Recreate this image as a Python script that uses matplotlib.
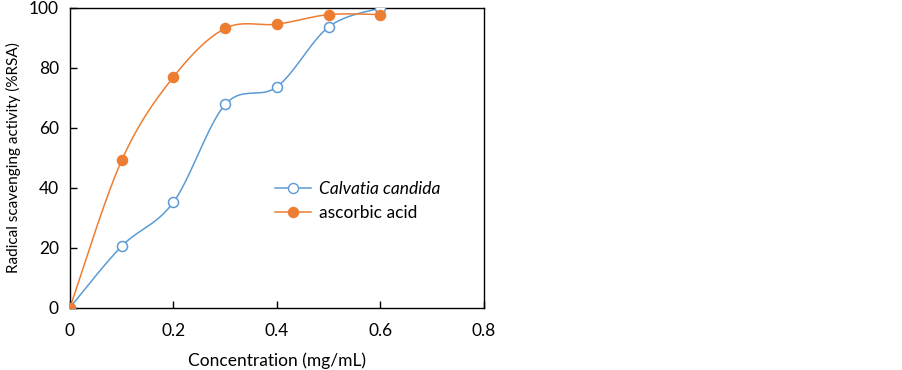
import numpy as np
import matplotlib
matplotlib.use("Agg")
import matplotlib.pyplot as plt

plt.rcParams['font.family'] = ['Lato', 'DejaVu Sans']

conc = [0, 0.1, 0.2, 0.3, 0.4, 0.5, 0.6]
calvatia = [0, 20.5, 35.2, 67.8, 73.7, 93.7, 100.0]
ascorbic = [0, 49.2, 77.0, 93.2, 94.6, 97.8, 97.8]
xticks = [0, 0.2, 0.4, 0.6, 0.8]
yticks = [0, 20, 40, 60, 80, 100]

BLUE = '#5B9BD5'
ORANGE = '#ED7D31'
FS = 12.5


def smooth(x, y, n=40):
    # Excel-like smoothed line: cubic Bezier with Catmull-Rom control points
    x = np.asarray(x, float)
    y = np.asarray(y, float)
    P = np.column_stack([x, y])
    out = []
    m = len(P)
    for i in range(m - 1):
        p0 = P[i - 1] if i > 0 else P[i]
        p1 = P[i]
        p2 = P[i + 1]
        p3 = P[i + 2] if i + 2 < m else P[i + 1]
        c1 = p1 + (p2 - p0) / 6.0
        c2 = p2 - (p3 - p1) / 6.0
        t = np.linspace(0, 1, n)[:, None]
        seg = ((1 - t) ** 3) * p1 + 3 * ((1 - t) ** 2) * t * c1 + 3 * (1 - t) * t ** 2 * c2 + t ** 3 * p2
        out.append(seg if i == 0 else seg[1:])
    S = np.vstack(out)
    return S[:, 0], S[:, 1]


fig = plt.figure(figsize=(9.03, 3.70), dpi=100)
ax = fig.add_axes([70 / 903, 1 - 307.5 / 370, 414 / 903, 299.5 / 370])

sx, sy = smooth(conc, calvatia)
ax.plot(sx, sy, color=BLUE, lw=1.1, zorder=2)
ax.plot(conc, calvatia, ls='none', marker='o', ms=7.2, mfc='white', mec=BLUE, mew=1.1, zorder=3)
sx, sy = smooth(conc, ascorbic)
ax.plot(sx, sy, color=ORANGE, lw=1.1, zorder=2)
ax.plot(conc, ascorbic, ls='none', marker='o', ms=7.2, mfc=ORANGE, mec=ORANGE, mew=1.1, zorder=4)

h1, = ax.plot([], [], color=BLUE, lw=1.1, marker='o', ms=7.2, mfc='white', mec=BLUE)
h2, = ax.plot([], [], color=ORANGE, lw=1.1, marker='o', ms=7.2, mfc=ORANGE, mec=ORANGE)
leg = ax.legend([h1, h2], ['Calvatia candida', 'ascorbic acid'], loc='center left',
                bbox_to_anchor=(205 / 414, 1 - (201 - 8) / 299.5), frameon=False,
                fontsize=FS, handlelength=2.1, handletextpad=0.45, labelspacing=0.5,
                borderpad=0, borderaxespad=0)
leg.get_texts()[0].set_style('italic')

ax.set_xlim(0, 0.8)
ax.set_ylim(0, 100)
ax.set_xticks(xticks)
ax.set_xticklabels(['0', '0.2', '0.4', '0.6', '0.8'])
ax.set_yticks(yticks)
ax.tick_params(direction='in', length=5, width=1, labelsize=FS, color='black')
ax.tick_params(axis='x', pad=11)
ax.tick_params(axis='y', pad=8)
for s in ax.spines.values():
    s.set_linewidth(1.0)
    s.set_color('black')
ax.set_xlabel('Concentration (mg/mL)', fontsize=FS, labelpad=10)
ax.set_ylabel('Radical scavenging activity (%RSA)', fontsize=11, labelpad=6)

fig.savefig('out.png', dpi=100)
